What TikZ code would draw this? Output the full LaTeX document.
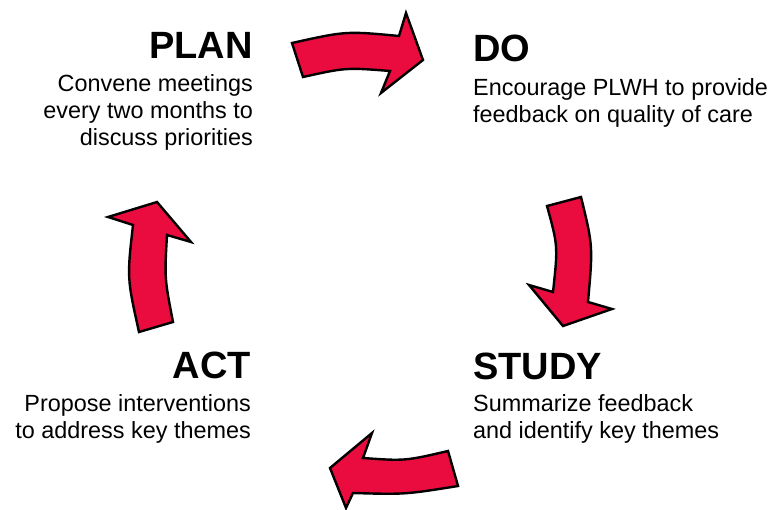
\documentclass[tikz,border=0pt]{standalone}
\usepackage{fontspec}
\setmainfont{Liberation Sans}
\definecolor{cyclered}{RGB}{234,12,62}
\usetikzlibrary{positioning}

\begin{document}
\begin{tikzpicture}[
  x=1pt,y=-1pt,
  head/.style={inner sep=0pt,font=\fontsize{38}{40}\selectfont\bfseries},
  blurb/.style={inner sep=0pt,font=\fontsize{23.4}{27}\selectfont},
  bigarrow/.style={draw=black,line width=2.4pt,fill=cyclered,line join=miter}
]
  \useasboundingbox (0,0) rectangle (778,510);

  % Plan
  \node[head,anchor=base east] (plan) at (253,59) {PLAN};
  \node[blurb,align=right,below left=15pt and 0pt of plan.south east] (plantext)
    {Convene meetings\\every two months to\\discuss priorities};
  % Do
  \node[head,anchor=base west] (do) at (473,62) {DO};
  \node[blurb,align=left,below right=16pt and 0pt of do.south west] (dotext)
    {Encourage PLWH to provide\\feedback on quality of care};
  % Study
  \node[head,anchor=base west] (study) at (473,379) {STUDY};
  \node[blurb,align=left,below right=15pt and 0pt of study.south west] (studytext)
    {Summarize feedback\\and identify key themes};
  % Act
  \node[head,anchor=base east] (act) at (251,378) {ACT};
  \node[blurb,align=right,below left=16pt and 0pt of act.south east] (acttext)
    {Propose interventions\\to address key themes};

  % Arrows round the cycle
  \draw[bigarrow] (292,43) .. controls (346,31) .. (399,36) -- (406,13) -- (423,60)
    -- (381,93) -- (390,71) .. controls (346,67.5) .. (303,77) -- cycle;
  \draw[bigarrow] (547,206) -- (581,197) .. controls (593,246) .. (588,302)
    -- (612,309) -- (563,326) -- (529,285) -- (553,292)
    .. controls (558,246) .. (547,206) -- cycle;
  \draw[bigarrow] (448,451) .. controls (405,461) .. (363,458) -- (372,433)
    -- (330,468) -- (346,508) -- (353,493) .. controls (405,494.5) .. (458,486) -- cycle;
  \draw[bigarrow] (139,332) .. controls (127,278) .. (133,225) -- (108,217)
    -- (157,202) -- (191,242) -- (167,235) .. controls (164.5,278) .. (173,322) -- cycle;
\end{tikzpicture}
\end{document}
